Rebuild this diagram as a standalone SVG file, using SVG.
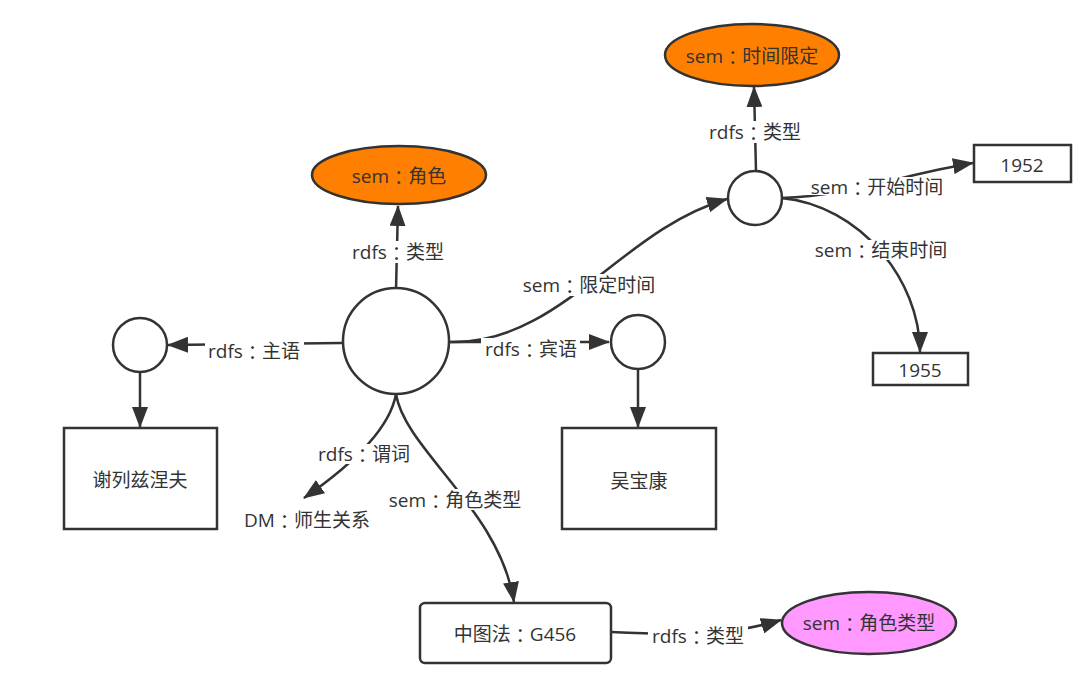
<svg xmlns="http://www.w3.org/2000/svg" width="1080" height="680" viewBox="0 0 1080 680">
<defs>
<marker id="arr" markerUnits="userSpaceOnUse" markerWidth="22" markerHeight="16" refX="20" refY="8" orient="auto">
<path d="M0,0 L21,8 L0,16 z" fill="#333"/>
</marker>
<style>
text{font-family:"Open Sans","Noto Sans CJK SC",sans-serif;font-size:19px;fill:#333;text-anchor:middle;dominant-baseline:central}
.c{font-family:"Noto Sans CJK TC","Noto Sans CJK SC",sans-serif}
.n{fill:#fff;stroke:#333;stroke-width:2.5}
.o{fill:#ff8000;stroke:#333;stroke-width:2.5}
.p{fill:#ff99ff;stroke:#333;stroke-width:2.5}
.e{fill:none;stroke:#333;stroke-width:2.5;marker-end:url(#arr)}
.bg{fill:#fff}
</style>
</defs>
<rect width="1080" height="680" fill="#fff"/>
<g id="connectors">
<path class="e" d="M396,290 L398,206"/>
<path class="e" d="M342,343 L168,345"/>
<path class="e" d="M140,373 L140,427"/>
<path class="e" d="M449,342 C560,345 620,230 727,199"/>
<path class="e" d="M449,342 L609,342"/>
<path class="e" d="M638,369 L638,427"/>
<path class="e" d="M396,394 Q388,440 304,498"/>
<path class="e" d="M396,394 C405,450 500,510 514,602"/>
<path class="e" d="M756,171 L754,87"/>
<path class="e" d="M781,198 C850,196 900,175 973,163"/>
<path class="e" d="M781,198 C860,205 920,280 920,352"/>
<path class="e" d="M611,632 C690,636 735,634 781,620"/>
<rect class="bg" x="349" y="241" width="99" height="22"/>
<text x="398" y="252">rdfs<tspan class="c">：</tspan>类型</text>
<rect class="bg" x="205" y="340" width="99" height="22"/>
<text x="254" y="351">rdfs<tspan class="c">：</tspan>主语</text>
<rect class="bg" x="481" y="338" width="99" height="22"/>
<text x="531" y="349">rdfs<tspan class="c">：</tspan>宾语</text>
<rect class="bg" x="520" y="274" width="139" height="22"/>
<text x="589" y="285">sem<tspan class="c">：</tspan>限定时间</text>
<rect class="bg" x="706" y="121" width="99" height="22"/>
<text x="755" y="132">rdfs<tspan class="c">：</tspan>类型</text>
<rect class="bg" x="807" y="177" width="140" height="18"/>
<text x="877" y="187">sem<tspan class="c">：</tspan>开始时间</text>
<rect class="bg" x="811" y="240" width="140" height="20"/>
<text x="881" y="250">sem<tspan class="c">：</tspan>结束时间</text>
<rect class="bg" x="314" y="444" width="100" height="20"/>
<text x="364" y="454">rdfs<tspan class="c">：</tspan>谓词</text>
<rect class="bg" x="385" y="489" width="140" height="21"/>
<text x="455" y="500">sem<tspan class="c">：</tspan>角色类型</text>
<rect class="bg" x="648" y="625" width="100" height="22"/>
<text x="698" y="636">rdfs<tspan class="c">：</tspan>类型</text>
</g>
<g id="n-shixianding"><ellipse class="o" cx="752" cy="55" rx="87" ry="31"/><text x="752" y="56">sem<tspan class="c">：</tspan>时间限定</text></g>
<g id="n-juese"><ellipse class="o" cx="399" cy="175" rx="87" ry="29"/><text x="399" y="176">sem<tspan class="c">：</tspan>角色</text></g>
<g id="n-center"><circle class="n" cx="396" cy="341" r="53"/></g>
<g id="n-subj"><circle class="n" cx="140" cy="345" r="27"/></g>
<g id="n-xie"><rect class="n" x="64" y="428" width="153" height="101"/><text x="140" y="480">谢列兹涅夫</text></g>
<g id="n-obj"><circle class="n" cx="638" cy="342" r="27"/></g>
<g id="n-wu"><rect class="n" x="562" y="428" width="154" height="101"/><text x="639" y="481">吴宝康</text></g>
<g id="n-time"><circle class="n" cx="755" cy="198" r="27"/></g>
<g id="n-1952"><rect class="n" x="974" y="145" width="97" height="37"/><text x="1022" y="165">1952</text></g>
<g id="n-1955"><rect class="n" x="873" y="353" width="95" height="32"/><text x="920" y="370">1955</text></g>
<g id="n-dm"><text x="307" y="520">DM<tspan class="c">：</tspan>师生关系</text></g>
<g id="n-zt"><rect class="n" x="420" y="603" width="191" height="60" rx="5"/><text x="515" y="634">中图法<tspan class="c">：</tspan>G456</text></g>
<g id="n-jslx"><ellipse class="p" cx="869" cy="623" rx="87" ry="31"/><text x="869" y="623">sem<tspan class="c">：</tspan>角色类型</text></g>
</svg>
